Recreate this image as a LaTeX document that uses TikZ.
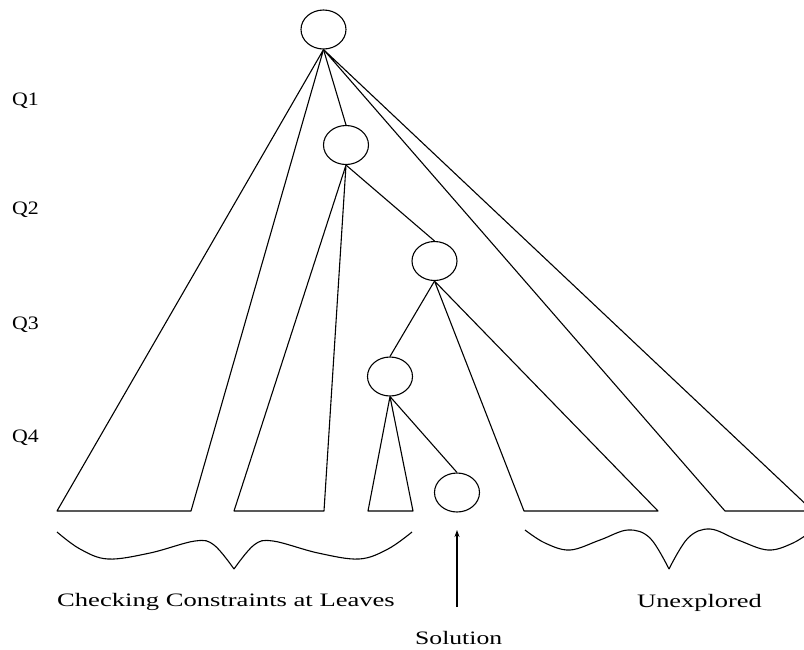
\documentclass[tikz,border=0pt]{standalone}
\usepackage{fontspec}
\setmainfont{Liberation Serif}
\usetikzlibrary{shapes.geometric,arrows.meta}
\begin{document}
\begin{tikzpicture}[x=1pt,y=-1pt,
 st/.style={ellipse,draw,line width=1.1pt,inner sep=0pt,minimum width=45pt,minimum height=39pt},
 edge/.style={line width=1.1pt,line join=round},
 lbl/.style={font=\fontsize{19}{22}\selectfont,inner sep=0pt},
 bracecurve/.style={line width=1.1pt}]
\useasboundingbox (0,0) rectangle (804,649);
\clip (0,0) rectangle (804,649);
% state nodes
\node[st] (n1) at (323.5,29.5) {};
\node[st] (n2) at (346,145) {};
\node[st] (n3) at (434.5,261) {};
\node[st] (n4) at (390,376.5) {};
\node[st] (n5) at (457,492.5) {};
% leaf corners
\coordinate (a1) at (57,511);
\coordinate (a2) at (191,511);
\coordinate (b1) at (234,511);
\coordinate (b2) at (324,511);
\coordinate (c1) at (368,511);
\coordinate (c2) at (413,511);
\coordinate (d1) at (524,511);
\coordinate (d2) at (658,511);
\coordinate (r1) at (725,511);
\coordinate (r2) at (813,511);
% subtrees
\draw[edge] (n1.south) -- (a1) -- (a2) -- (n1.south);
\draw[edge] (n1.south) -- (n2.north);
\draw[edge] (n1.south) -- (r1) -- (r2) -- (n1.south);
\draw[edge] (n2.south) -- (b1) -- (b2) -- (n2.south);
\draw[edge] (n2.south) -- (n3.north);
\draw[edge] (n3.south) -- (n4.north);
\draw[edge] (n3.south) -- (d1) -- (d2) -- (n3.south);
\draw[edge] (n4.south) -- (c1) -- (c2) -- (n4.south);
\draw[edge] (n4.south) -- (n5.north);
% left brace
\draw[bracecurve] plot[smooth,tension=0.6] coordinates {(57,532) (80,549) (108,559) (150,553) (195,541) (214,545) (234,569)};
\draw[bracecurve] plot[smooth,tension=0.6] coordinates {(234,569) (254,545) (273,541) (318,553) (359,559) (388,549) (412,532)};
% right brace
\draw[bracecurve] plot[smooth,tension=0.6] coordinates {(525,530) (545,543) (570,550) (600,540) (628,530) (650,538) (669,569)};
\draw[bracecurve] plot[smooth,tension=0.6] coordinates {(669,569) (688,538) (710,529) (738,540) (768,550) (793,543) (813,530)};
% solution arrow
\coordinate (s1) at (457,607);
\coordinate (s2) at (457,530);
\draw[edge,-{Stealth[length=7pt,width=5pt]}] (s1) -- (s2);
% labels
\node[lbl,anchor=base west] (q1) at (12,105.6) {\scalebox{1.15}[1]{Q1}};
\node[lbl,anchor=base west] (q2) at (12,214.6) {\scalebox{1.15}[1]{Q2}};
\node[lbl,anchor=base west] (q3) at (12,329.6) {\scalebox{1.15}[1]{Q3}};
\node[lbl,anchor=base west] (q4) at (12,442.6) {\scalebox{1.15}[1]{Q4}};
\node[lbl,anchor=base west] (chk) at (57,606.6) {\scalebox{1.4}[1]{Checking Constraints at Leaves}};
\node[lbl,anchor=base west] (unx) at (637,607.6) {\scalebox{1.39}[1]{Unexplored}};
\node[lbl,anchor=base west] (sol) at (415,644.6) {\scalebox{1.35}[1]{Solution}};
\end{tikzpicture}
\end{document}
